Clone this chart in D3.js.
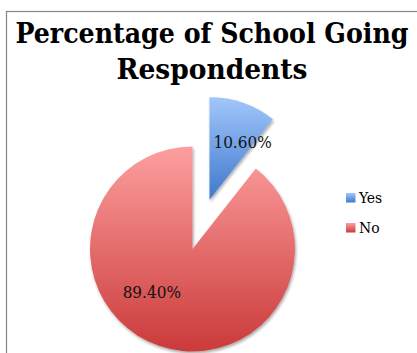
<!DOCTYPE html>
<html>
<head>
<meta charset="utf-8">
<script src="https://cdn.jsdelivr.net/npm/d3@7"></script>
<style>
  html, body { margin: 0; padding: 0; background: #fff; }
  svg { display: block; }
</style>
</head>
<body>
<svg id="chart" width="417" height="353"></svg>
<script>
// Survey answers: share of respondents going to school
const categories = ["Yes", "No"];
const shares = [10.6, 89.4];
const valueLabels = ["10.60%", "89.40%"];
const titleLines = ["Percentage of School Going", "Respondents"];

const svg = d3.select("#chart");
const W = 417, H = 353;
const serif = "'DejaVu Serif Condensed', 'DejaVu Serif', serif";

const defs = svg.append("defs");

// Vertical two-tone gradients for each slice and legend key
const palette = {
  Yes: ["#a2c6fb", "#3f78cd"],
  No:  ["#fd9f9f", "#cb3a3a"]
};
categories.forEach(c => {
  const g = defs.append("linearGradient")
    .attr("id", "grad-" + c)
    .attr("x1", 0).attr("y1", 0).attr("x2", 0).attr("y2", 1);
  g.append("stop").attr("offset", "0%").attr("stop-color", palette[c][0]);
  g.append("stop").attr("offset", "100%").attr("stop-color", palette[c][1]);
});

// Soft shadow under the slices
const f = defs.append("filter").attr("id", "shadow")
  .attr("x", "-20%").attr("y", "-20%").attr("width", "140%").attr("height", "140%");
f.append("feDropShadow")
  .attr("dx", 1).attr("dy", 2).attr("stdDeviation", 1.6)
  .attr("flood-color", "#000").attr("flood-opacity", 0.35);

// Chart frame (runs off the right and bottom edges)
svg.append("rect")
  .attr("x", 6.5).attr("y", 11.5)
  .attr("width", W + 10).attr("height", H + 10)
  .attr("fill", "none").attr("stroke", "#868686").attr("stroke-width", 1.2);

// Title
const title = svg.append("text")
  .attr("text-anchor", "middle")
  .attr("font-family", serif)
  .attr("font-weight", "bold")
  .attr("font-size", 27)
  .attr("fill", "#000");
const titleWidths = [393, 191];
titleLines.forEach((t, i) => {
  title.append("tspan")
    .attr("x", 212).attr("y", 42.5 + i * 36.5)
    .attr("textLength", titleWidths[i])
    .attr("lengthAdjust", "spacingAndGlyphs")
    .text(t);
});

// Pie
const cx = 192.5, cy = 249, r = 102.5, explode = 52;
const pie = d3.pie().sort(null).value(d => d.value).startAngle(0).endAngle(2 * Math.PI);
const data = categories.map((c, i) => ({ name: c, value: shares[i], label: valueLabels[i] }));
const arcs = pie(data);
const arc = d3.arc().innerRadius(0).outerRadius(r);

const pieG = svg.append("g").attr("transform", `translate(${cx},${cy})`);

function offsetOf(d) {
  if (d.data.name !== "Yes") return [0, 0];
  const a = (d.startAngle + d.endAngle) / 2;
  return [Math.sin(a) * explode, -Math.cos(a) * explode];
}

pieG.selectAll("path.slice")
  .data(arcs)
  .join("path")
  .attr("class", "slice")
  .attr("transform", d => `translate(${offsetOf(d)})`)
  .attr("d", arc)
  .attr("fill", d => `url(#grad-${d.data.name})`)
  .attr("filter", "url(#shadow)");

// Value labels placed inside each slice
const labelPlace = { Yes: [0.78, 0.65], No: [0.575, 0.58] }; // fraction of slice sweep, fraction of radius
pieG.selectAll("text.val")
  .data(arcs)
  .join("text")
  .attr("class", "val")
  .attr("text-anchor", "middle")
  .attr("font-family", serif)
  .attr("font-size", 17)
  .attr("fill", "#111")
  .attr("transform", d => {
    const [o0, o1] = offsetOf(d);
    const [fa, fr] = labelPlace[d.data.name];
    const a = d.startAngle + fa * (d.endAngle - d.startAngle);
    const x = o0 + Math.sin(a) * r * fr;
    const y = o1 - Math.cos(a) * r * fr;
    return `translate(${x},${y + 6})`;
  })
  .text(d => d.data.label);

// Legend
const legend = svg.append("g").attr("transform", "translate(346,193)");
const rows = legend.selectAll("g").data(categories).join("g")
  .attr("transform", (d, i) => `translate(0,${i * 30})`);
rows.append("rect")
  .attr("width", 9.5).attr("height", 9.5)
  .attr("fill", d => `url(#grad-${d})`);
rows.append("text")
  .attr("x", 13).attr("y", 10)
  .attr("font-family", serif)
  .attr("font-size", 15.5)
  .attr("fill", "#000")
  .text(d => d);
</script>
</body>
</html>
